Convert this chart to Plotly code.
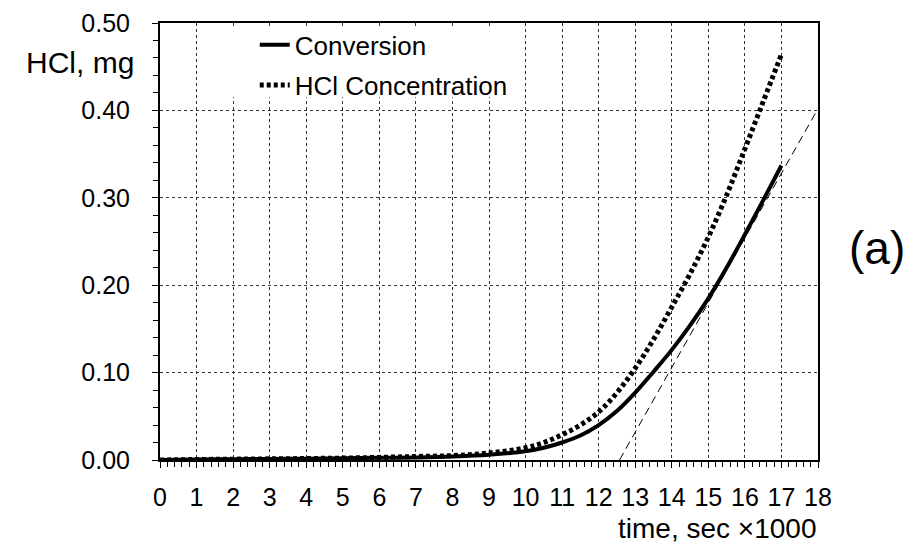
import plotly.graph_objects as go

# time in units of 1000 s
time = [0, 1, 2, 3, 4, 5, 6, 7, 8, 9, 10, 10.5, 11, 11.5, 12, 12.5, 13, 13.5, 14, 14.5,
        15, 15.5, 16, 16.5, 17]
conversion = [0.0, 0.0005, 0.001, 0.0012, 0.0015, 0.002, 0.0025, 0.003, 0.004, 0.006,
              0.010, 0.014, 0.020, 0.028, 0.040, 0.056, 0.077, 0.101, 0.126, 0.154,
              0.185, 0.220, 0.258, 0.297, 0.337]
hcl_conc = [0.0, 0.0005, 0.001, 0.0013, 0.0017, 0.0022, 0.003, 0.004, 0.005, 0.008,
            0.014, 0.020, 0.029, 0.040, 0.055, 0.077, 0.105, 0.138, 0.175, 0.213,
            0.255, 0.303, 0.356, 0.410, 0.464]

# tangent line to the conversion curve
tangent_x = [12.57, 18]
tangent_y = [0.0, 0.402]

x_ticks = list(range(0, 19))
y_ticks = [0.0, 0.1, 0.2, 0.3, 0.4, 0.5]

font = "Arial, Liberation Sans, sans-serif"

fig = go.Figure()

fig.add_trace(go.Scatter(
    x=tangent_x, y=tangent_y, mode="lines", showlegend=False,
    line=dict(color="black", width=1, dash="8px,5px"),
))
fig.add_trace(go.Scatter(
    x=time, y=conversion, mode="lines", name="Conversion", legend="legend",
    line=dict(color="black", width=4, shape="spline"),
))
fig.add_trace(go.Scatter(
    x=time, y=hcl_conc, mode="lines", name="HCl Concentration", legend="legend2",
    line=dict(color="black", width=5, dash="4px,3px", shape="spline"),
))

fig.update_xaxes(
    range=[0, 18], tickvals=x_ticks, ticktext=[str(t) for t in x_ticks],
    showline=True, linecolor="black", linewidth=2, mirror=True, automargin=False,
    showgrid=True, gridcolor="#333", griddash="dot", gridwidth=1,
    ticks="outside", ticklen=6, tickcolor="black", ticklabelstandoff=8,
    minor=dict(dtick=0.2, ticks="outside", ticklen=5, tickcolor="black", showgrid=False),
    zeroline=False, tickfont=dict(size=25, family=font, color="black"),
)
fig.update_yaxes(
    range=[0, 0.5], tickvals=y_ticks, tickformat=".2f",
    showline=True, linecolor="black", linewidth=2, mirror=True, automargin=False,
    showgrid=True, gridcolor="#333", griddash="dot", gridwidth=1,
    ticks="outside", ticklen=6, tickcolor="black", ticklabelstandoff=17,
    minor=dict(dtick=0.02, ticks="outside", ticklen=5, tickcolor="black", showgrid=False),
    zeroline=False, tickfont=dict(size=25, family=font, color="black"),
)

# white panel behind the legend, hiding the grid there
fig.add_shape(type="rect", xref="paper", yref="paper", x0=0.08, x1=0.54, y0=0.83, y1=0.99,
              fillcolor="white", line_width=0, layer="above")

fig.add_annotation(text="HCl, mg", xref="paper", yref="paper", x=-0.036, y=0.91,
                   xanchor="right", yanchor="middle", showarrow=False,
                   font=dict(size=30, family=font, color="black"))
fig.add_annotation(text="time, sec ×1000", xref="paper", yref="paper", x=1.0, y=-0.157,
                   xanchor="right", yanchor="middle", showarrow=False,
                   font=dict(size=28, family=font, color="black"))
fig.add_annotation(text="(a)", xref="paper", yref="paper", x=1.09, y=0.485,
                   xanchor="center", yanchor="middle", showarrow=False,
                   font=dict(size=46, family=font, color="black"))

legend_style = dict(xanchor="left", yanchor="middle", bgcolor="rgba(0,0,0,0)",
                    font=dict(size=26, family=font, color="black"))
fig.update_layout(
    width=920, height=544,
    margin=dict(l=152, r=110, t=15, b=92),
    paper_bgcolor="white", plot_bgcolor="white",
    legend=dict(x=0.144, y=0.95, **legend_style),
    legend2=dict(x=0.144, y=0.858, **legend_style),
)

fig.write_html("out.html")
